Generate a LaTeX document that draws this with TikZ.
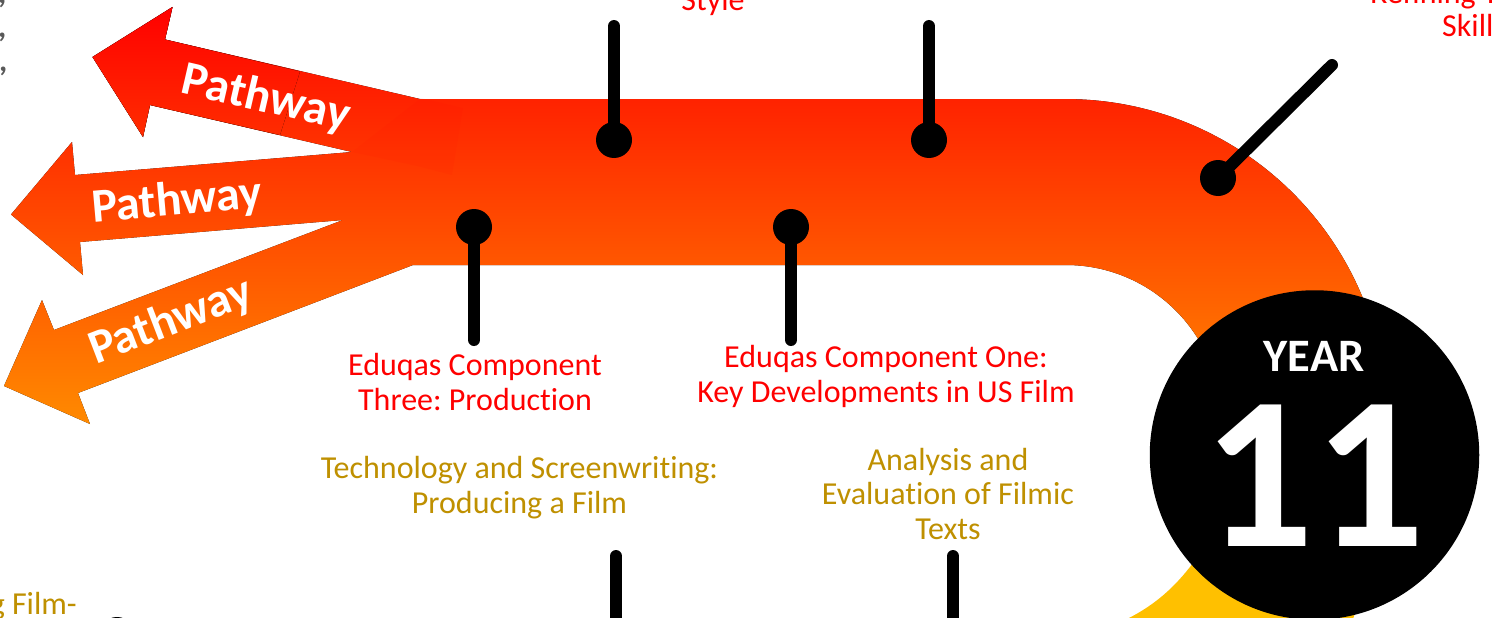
\documentclass[tikz,border=0pt]{standalone}
\usepackage{fontspec}
\setmainfont{Carlito}[Ligatures=NoCommon]
\definecolor{labred}{RGB}{255,0,0}
\definecolor{labgold}{RGB}{191,144,0}
\definecolor{bandyellow}{RGB}{255,192,0}
\definecolor{gradtop}{RGB}{255,5,0}
\definecolor{gradbot}{RGB}{255,138,0}
\definecolor{arrowtop}{RGB}{255,0,0}
\definecolor{arrowbot}{RGB}{255,50,0}
\definecolor{commagrey}{RGB}{89,89,89}
\tikzset{
  redlabel/.style={text=labred,align=center,font=\fontsize{32}{34.3}\selectfont\frenchspacing,inner sep=0pt,anchor=base},
  goldlabel/.style={text=labgold,align=center,font=\fontsize{32}{34.3}\selectfont\frenchspacing,inner sep=0pt,anchor=base},
  pathwaylabel/.style={text=white,font=\fontsize{48}{48}\selectfont\bfseries,inner sep=0pt},
  pin/.style={circle,fill=black,minimum size=36pt,inner sep=0pt},
  stem/.style={line width=12pt,line cap=round,black},
  commamark/.style={text=commagrey,font=\fontsize{32}{34.3}\selectfont\bfseries,inner sep=0pt,anchor=base west},
}
\begin{document}
\begin{tikzpicture}[x=1pt,y=-1pt]
\useasboundingbox (0,0) rectangle (1492,618);
\fill[white] (0,0) rectangle (1492,618);
\clip (0,0) rectangle (1492,618);
% gradient band with three arrows
\begin{scope}
\clip (420,99) -- (165,39.5) -- (172.5,7) -- (92.5,57) -- (143,137) -- (150,105) -- (352,152)
  -- (75,175) -- (72,142) -- (11,214.5) -- (83,275) -- (80,242) -- (343,220)
  -- (54,330) -- (42,300) -- (4,386) -- (90,424) -- (78,393) -- (413,265)
  -- (1066,265) arc[start angle=90,end angle=15,radius=155pt]
  -- (1376,337) arc[start angle=15,end angle=90,radius=321pt] -- cycle;
\fill[top color=gradtop,bottom color=gradbot] (0,7) rectangle (1492,424);
\end{scope}
% redder head of the top arrow
\begin{scope}
\clip (300,71.5) -- (165,39.5) -- (172.5,7) -- (92.5,57) -- (143,137) -- (150,105) -- (280,135) -- cycle;
\fill[top color=arrowtop,bottom color=arrowbot] (0,7) rectangle (1492,152);
\end{scope}
\fill[red,opacity=0.06] (421,98) -- (463,108) -- (452,175) -- (417,166) -- (352,152) -- cycle;
% yellow band
\fill[bandyellow] (1127,619) .. controls (1155,605) and (1175,587) .. (1193,563) -- (1300,500) -- (1356,610) -- (1353,619) -- cycle;
% pathway labels
\node[pathwaylabel,rotate=-13] (pw1) at (266,99) {Pathway};
\node[pathwaylabel,rotate=5] (pw2) at (177,202) {Pathway};
\node[pathwaylabel,rotate=21] (pw3) at (171,322) {Pathway};
% pins
\node[pin] (d1) at (474,227) {};
\node[pin] (d2) at (791,227) {};
\node[pin] (d3) at (614,140) {};
\node[pin] (d4) at (929,140) {};
\node[pin] (d5) at (1218,178) {};
\node[pin] (d6) at (117,635) {};
\coordinate (e1) at (474,340);
\coordinate (e2) at (791,340);
\coordinate (e3) at (614,26);
\coordinate (e4) at (929,26);
\coordinate (e5) at (1332,65);
\coordinate (e6) at (616,556);
\coordinate (e7) at (616,640);
\coordinate (e8) at (953,556);
\coordinate (e9) at (953,640);
\draw[stem] (d1.center) -- (e1);
\draw[stem] (d2.center) -- (e2);
\draw[stem] (d3.center) -- (e3);
\draw[stem] (d4.center) -- (e4);
\draw[stem] (d5.center) -- (e5);
\draw[stem] (e6) -- (e7);
\draw[stem] (e8) -- (e9);
% labels
\node[redlabel] (t1) at (475,410) {Eduqas Component\\Three: Production};
\node[redlabel] (t2) at (886,402) {Eduqas Component One:\\Key Developments in US Film};
\node[redlabel] (t3) at (713,11) {Style};
\node[redlabel,anchor=base west] (t4a) at (1370,4) {Refining T};
\node[redlabel,anchor=base west] (t4b) at (1442,37) {Skill};
\node[goldlabel] (t5) at (519.5,513) {Technology and Screenwriting:\\Producing a Film};
\node[goldlabel] (t6) at (948,539) {Analysis and\\Evaluation of Filmic\\Texts};
\node[goldlabel,anchor=base east] (t7) at (77,614) {g Film-};
\node[commamark] (c1) at (-2,4) {,};
\node[commamark] (c2) at (-2,38) {,};
\node[commamark] (c3) at (-1,72) {,};
% year badge
\node[circle,fill=black,minimum size=329.5pt,inner sep=0pt] (year) at (1314.5,455) {};
\node[text=white,font=\fontsize{46.5}{46.5}\selectfont\bfseries,inner sep=0pt,anchor=base] (yr) at (1314,371) {YEAR};
\node[text=white,font=\fontsize{218}{218}\selectfont\bfseries,inner sep=0pt,anchor=base] (num) at (1314,546) {11};
\end{tikzpicture}
\end{document}
